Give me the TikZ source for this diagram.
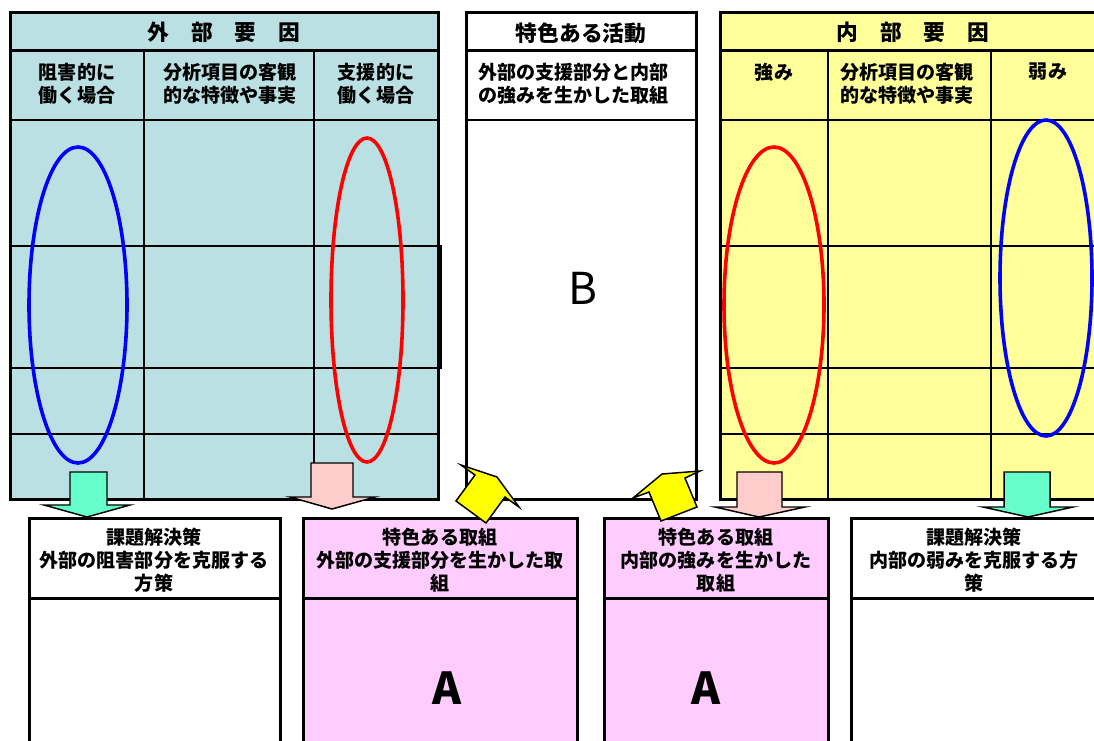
\documentclass[tikz,border=0pt]{standalone}
\usepackage{fontspec}
\setmainfont{Noto Sans CJK JP}
\definecolor{extfill}{HTML}{BBE0E3}
\definecolor{intfill}{HTML}{FFFF99}
\definecolor{pinkbox}{HTML}{FFCCFF}
\definecolor{greenarrow}{HTML}{66FFCC}
\definecolor{pinkarrow}{HTML}{FFCCCC}
\definecolor{yelarrow}{HTML}{FFFF00}
\definecolor{ellblue}{HTML}{0000FF}
\definecolor{ellred}{HTML}{FF0000}
\tikzset{
  frame/.style={draw=black, line width=2.25pt},
  grid/.style={draw=black, line width=1.5pt},
  ell/.style={line width=2.7pt},
  blockarrow/.style={draw=black, line width=1.1pt, line join=miter},
  body/.style={font=\bfseries\fontsize{14.3}{17.3}\selectfont, inner sep=0pt},
  title/.style={font=\bfseries\fontsize{16.3}{19}\selectfont, inner sep=0pt},
  big/.style={font=\fontsize{33}{36}\selectfont, inner sep=0pt},
  bigbold/.style={font=\bfseries\fontsize{33}{36}\selectfont, inner sep=0pt}
}
\begin{document}
\begin{tikzpicture}[x=0.75pt,y=-0.75pt]
\clip (0,0) rectangle (1094,740);
\fill[white] (0,0) rectangle (1094,740);

% ---------- external factors panel ----------
\fill[extfill] (10,12) rectangle (438,499);
\draw[grid] (10,120) -- (438,120);
\draw[grid] (10,246) -- (441,246) -- (441,368) -- (10,368);
\draw[grid] (10,434) -- (438,434);
\draw[grid] (144,50) -- (144,499);
\draw[grid] (314,50) -- (314,499);
\draw[frame] (10,50) -- (438,50);
\draw[frame] (10,12) rectangle (438,499);

% ---------- distinctive activities panel ----------
\fill[white] (466,12) rectangle (696,499);
\draw[grid] (466,120) -- (696,120);
\draw[frame] (466,50) -- (696,50);
\draw[frame] (466,12) rectangle (696,499);

% ---------- internal factors panel ----------
\fill[intfill] (720,12) rectangle (1110,499);
\draw[grid] (720,120) -- (1110,120);
\draw[grid] (720,246) -- (1110,246);
\draw[grid] (720,368) -- (1110,368);
\draw[grid] (720,434) -- (1110,434);
\draw[grid] (828,50) -- (828,499);
\draw[grid] (991,50) -- (991,499);
\draw[frame] (720,50) -- (1110,50);
\draw[frame] (720,12) rectangle (1110,499);

% ---------- ellipses ----------
\draw[ell, ellblue] (78,305) ellipse [x radius=49, y radius=158];
\draw[ell, ellred] (367,300) ellipse [x radius=36, y radius=162];
\draw[ell, ellred] (774,305) ellipse [x radius=50, y radius=158];
\draw[ell, ellblue] (1046,278) ellipse [x radius=46, y radius=158];

% ---------- panel texts ----------
\node[title] (extTitle) at (224,32) {外　部　要　因};
\node[body, align=left] (extA) at (77,84) {阻害的に\\働く場合};
\node[body, align=left] (extB) at (230,84) {分析項目の客観\\的な特徴や事実};
\node[body, align=left] (extC) at (376,84) {支援的に\\働く場合};

\node[title] (actTitle) at (581,33) {特色ある活動};
\node[body, align=left, anchor=west] (actSub) at (478,84) {外部の支援部分と内部\\の強みを生かした取組};
\node[big] (labelB) at (583,288) {B};

\node[title] (intTitle) at (913,32) {内　部　要　因};
\node[body] (intA) at (774,72) {強み};
\node[body, align=left] (intB) at (907,84) {分析項目の客観\\的な特徴や事実};
\node[body] (intC) at (1048,72) {弱み};

% ---------- bottom boxes ----------
\fill[white] (29,518) rectangle (280,760);
\draw[frame] (29,598) -- (280,598);
\draw[frame] (29,518) rectangle (280,760);
\node[body, align=center] (solExt) at (154,560) {課題解決策\\外部の阻害部分を克服する\\方策};

\fill[pinkbox] (303,518) rectangle (577,760);
\draw[frame] (303,598) -- (577,598);
\draw[frame] (303,518) rectangle (577,760);
\node[body, align=center] (featExt) at (440,560) {特色ある取組\\外部の支援部分を生かした取\\組};
\node[bigbold] (labelA1) at (447,688) {A};

\fill[pinkbox] (604,518) rectangle (828,760);
\draw[frame] (604,598) -- (828,598);
\draw[frame] (604,518) rectangle (828,760);
\node[body, align=center] (featInt) at (716,560) {特色ある取組\\内部の強みを生かした\\取組};
\node[bigbold] (labelA2) at (706,688) {A};

\fill[white] (851,518) rectangle (1110,760);
\draw[frame] (851,598) -- (1110,598);
\draw[frame] (851,518) rectangle (1110,760);
\node[body, align=center] (solInt) at (974,560) {課題解決策\\内部の弱みを克服する方\\策};

% ---------- block arrows ----------
\draw[blockarrow, fill=greenarrow] (70,472) -- (107,472) -- (107,505) -- (130,505) -- (87,517) -- (44,505) -- (70,505) -- cycle;
\draw[blockarrow, fill=pinkarrow] (311,463) -- (353,463) -- (353,497) -- (375,497) -- (332,509) -- (290,497) -- (311,497) -- cycle;
\draw[blockarrow, fill=pinkarrow] (737,472) -- (782,472) -- (782,507) -- (805,507) -- (759,517) -- (715,507) -- (737,507) -- cycle;
\draw[blockarrow, fill=greenarrow] (1004,472) -- (1050,472) -- (1050,507) -- (1073,507) -- (1028,517) -- (983,507) -- (1004,507) -- cycle;
\draw[blockarrow, fill=yelarrow] (461,465) -- (497,477) -- (519,507) -- (505,497) -- (486,523) -- (456,501) -- (475,475) -- cycle;
\draw[blockarrow, fill=yelarrow] (633,498) -- (662,474) -- (700,471) -- (685,478) -- (697,507) -- (661,521) -- (649,492) -- cycle;
\end{tikzpicture}
\end{document}
